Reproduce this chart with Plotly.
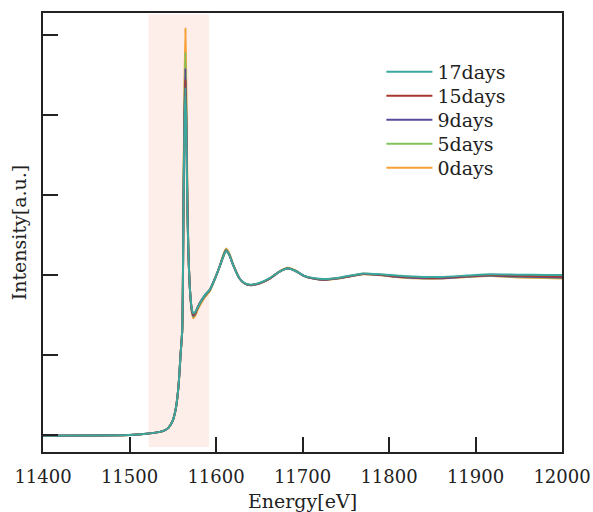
import plotly.graph_objects as go

energy = [11400, 11450, 11500, 11520, 11530, 11540, 11545, 11550, 11553, 11555,
          11557, 11559, 11561, 11562.5, 11563.5, 11564.6, 11565.7, 11566.8, 11568, 11570,
          11572, 11573.8, 11576, 11579, 11583, 11587, 11593, 11599, 11604, 11608,
          11611.5, 11615, 11620, 11627, 11633, 11639, 11650, 11662, 11673, 11683,
          11692, 11702, 11714, 11724, 11744, 11770, 11790, 11813, 11840, 11860,
          11890, 11917, 11950, 11980, 12000]

d17 = [-0.005, -0.003, 0.0, 0.008, 0.015, 0.028, 0.045, 0.09, 0.15, 0.22,
       0.33, 0.5, 0.66, 1.45, 1.9, 2.17, 1.9, 1.45, 1.16, 0.90,
       0.79, 0.76, 0.77, 0.80, 0.84, 0.875, 0.91, 0.98, 1.05, 1.11,
       1.15, 1.13, 1.06, 0.98, 0.95, 0.94, 0.95, 0.98, 1.02, 1.04,
       1.025, 0.995, 0.98, 0.975, 0.985, 1.01, 1.005, 0.995, 0.988, 0.988,
       0.997, 1.005, 1.002, 1.0, 1.0]
d15 = [-0.005, -0.003, 0.0, 0.008, 0.015, 0.028, 0.045, 0.09, 0.15, 0.22,
       0.33, 0.5, 0.66, 1.47, 1.93, 2.22, 1.93, 1.47, 1.16, 0.90,
       0.785, 0.75, 0.765, 0.80, 0.84, 0.872, 0.91, 0.98, 1.05, 1.11,
       1.152, 1.13, 1.06, 0.98, 0.948, 0.938, 0.948, 0.978, 1.02, 1.04,
       1.025, 0.995, 0.978, 0.972, 0.983, 1.008, 1.002, 0.99, 0.984, 0.984,
       0.993, 1.0, 0.995, 0.992, 0.99]
d9 = [-0.005, -0.003, 0.0, 0.008, 0.015, 0.028, 0.045, 0.09, 0.15, 0.22,
      0.33, 0.5, 0.66, 1.5, 1.98, 2.29, 1.98, 1.5, 1.16, 0.90,
      0.78, 0.745, 0.76, 0.80, 0.84, 0.87, 0.91, 0.98, 1.05, 1.11,
      1.155, 1.13, 1.06, 0.98, 0.947, 0.937, 0.947, 0.977, 1.02, 1.04,
      1.025, 0.993, 0.976, 0.97, 0.981, 1.006, 1.0, 0.987, 0.98, 0.98,
      0.99, 0.997, 0.99, 0.987, 0.985]
d5 = [-0.005, -0.003, 0.0, 0.008, 0.015, 0.028, 0.045, 0.09, 0.15, 0.22,
      0.33, 0.5, 0.66, 1.53, 2.05, 2.39, 2.05, 1.53, 1.16, 0.90,
      0.775, 0.74, 0.755, 0.795, 0.835, 0.865, 0.905, 0.98, 1.05, 1.115,
      1.16, 1.135, 1.06, 0.98, 0.947, 0.937, 0.947, 0.977, 1.02, 1.042,
      1.027, 0.993, 0.976, 0.97, 0.981, 1.006, 1.0, 0.987, 0.98, 0.98,
      0.99, 0.996, 0.988, 0.985, 0.982]
d0 = [-0.005, -0.003, 0.0, 0.008, 0.015, 0.028, 0.045, 0.09, 0.15, 0.22,
      0.33, 0.5, 0.66, 1.56, 2.15, 2.54, 2.15, 1.56, 1.16, 0.90,
      0.77, 0.73, 0.745, 0.785, 0.825, 0.86, 0.90, 0.98, 1.05, 1.12,
      1.165, 1.14, 1.065, 0.98, 0.947, 0.937, 0.947, 0.978, 1.022, 1.045,
      1.028, 0.993, 0.976, 0.97, 0.98, 1.005, 0.998, 0.985, 0.978, 0.978,
      0.988, 0.994, 0.985, 0.981, 0.978]

series_names = ["0days", "5days", "9days", "15days", "17days"]
series_data = [d0, d5, d9, d15, d17]
series_colors = ["#f7a034", "#80c45c", "#5a4a9e", "#a8392f", "#3ba89f"]

x_ticks = [11400, 11500, 11600, 11700, 11800, 11900, 12000]
x_ticklabels = ["11400", "11500", "11600", "11700", "11800", "11900", "12000"]
y_ticks = [0, 0.5, 1.0, 1.5, 2.0, 2.5]
shade_range = [11522, 11592]

font_family = "DejaVu Serif"

# one legend box per entry so the entries sit 24 px apart as in the reference
legend_ids = ["legend5", "legend4", "legend3", "legend2", "legend"]

fig = go.Figure()
for name, ys, col, lid in zip(series_names, series_data, series_colors, legend_ids):
    fig.add_trace(go.Scatter(x=energy, y=ys, mode="lines", name=name, legend=lid,
                             line=dict(color=col, width=2, shape="spline", smoothing=0.6)))

fig.add_shape(type="rect", xref="x", yref="y", x0=shade_range[0], x1=shade_range[1],
              y0=-0.075, y1=2.63, fillcolor="#fdeee9", line=dict(width=0), layer="below")

plot_top, plot_h = 13, 439
legend_layout = {}
for i, lid in enumerate(["legend", "legend2", "legend3", "legend4", "legend5"]):
    cy = 72 + 24 * i
    legend_layout[lid] = dict(
        x=0.652, y=1 - (cy - plot_top) / plot_h, xanchor="left", yanchor="middle",
        bgcolor="rgba(0,0,0,0)", borderwidth=0, itemwidth=46,
        font=dict(size=19, family=font_family, color="#222"))

fig.update_layout(
    width=593, height=512,
    margin=dict(l=43, r=31, t=13, b=60, autoexpand=False),
    paper_bgcolor="white", plot_bgcolor="white",
    font=dict(family=font_family, size=18, color="#222"),
    showlegend=True,
    xaxis=dict(range=[11400, 12000], tickvals=x_ticks, ticktext=x_ticklabels,
               ticks="inside", ticklen=15, ticklabelstandoff=8,
               tickwidth=1.5, tickcolor="#222", showline=True, linecolor="#222",
               linewidth=1.5, mirror=True, showgrid=False, zeroline=False,
               automargin=False,
               title=dict(text="Energy[eV]", standoff=10, font=dict(size=19)),
               tickfont=dict(size=18)),
    yaxis=dict(range=[-0.106, 2.6375], tickvals=y_ticks, showticklabels=False,
               ticks="inside", ticklen=15, tickwidth=1.5, tickcolor="#222",
               showline=True, linecolor="#222", linewidth=1.5, mirror=True,
               showgrid=False, zeroline=False, automargin=False,
               title=dict(text="Intensity[a.u.]", standoff=10, font=dict(size=19))),
    **legend_layout,
)

fig.write_html("out.html")
